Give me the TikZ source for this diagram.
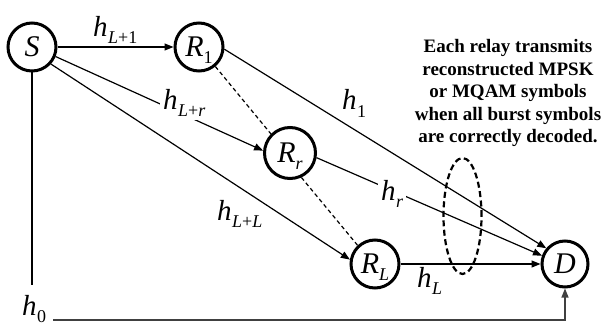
\documentclass[tikz,border=0pt]{standalone}
\usepackage{fontspec}
\setmainfont{Liberation Serif}
\usetikzlibrary{arrows.meta}
\newcommand{\hlab}[1]{\textit{h}\kern0.5pt\raisebox{-7pt}{\fontsize{18}{18}\selectfont #1}}
\newcommand{\nlab}[2]{\textit{#1}\raisebox{-7pt}[0pt][0pt]{\fontsize{18}{18}\selectfont #2}}
\begin{document}
\begin{tikzpicture}[x=1pt,y=-1pt,
  nd/.style={circle, draw, line width=3pt, minimum size=48pt, inner sep=0pt, font=\fontsize{30}{30}\selectfont},
  lab/.style={font=\fontsize{29}{29}\selectfont, inner sep=1pt, anchor=base west},
  gaplab/.style={lab, fill=white, inner xsep=3pt, inner ysep=4pt},
  conn/.style={line width=1.2pt},
  arr/.style={conn, -{Triangle[length=9pt,width=7pt]}},
  dsh/.style={line width=1.2pt, dash pattern=on 4pt off 3pt},
  note/.style={font=\fontsize{19}{22.5}\selectfont\bfseries, align=center}
]
\useasboundingbox (0,0) rectangle (605,329);

\node[nd] (S) at (32,47) {\textit{S}};
\node[nd] (R1) at (199,47) {\nlab{R}{1}};
\node[nd, minimum size=51pt] (Rr) at (290,153) {\nlab{R}{\textit{r}}};
\node[nd] (RL) at (375,264) {\nlab{R}{\textit{L}}};
\node[nd, minimum size=46pt] (D) at (565,264) {\textit{D}};

% connectors
\draw[arr] (S) -- (R1);
\draw[arr] (S.-22) -- (Rr.175);
\draw[arr] (S.-42) -- (RL.170);
\draw[arr] (R1.-5) -- (D.140);
\draw[arr] (Rr.-10) -- (D.160);
\draw[arr] (RL) -- (D);
\draw[dsh] (R1.-50) -- (Rr.135);
\draw[dsh] (Rr.-65) -- (RL.133);

\coordinate (vend) at (32,285);
\coordinate (hstart) at (53,320);
\draw[conn] (S) -- (vend);
\draw[arr, black!75] (hstart) -| (D.south);

% ellipse
\draw[line width=2.2pt, dash pattern=on 6pt off 3.5pt] (462.5,216) ellipse [x radius=19pt, y radius=58pt];

% labels
\node[lab] (hL1) at (92,37) {\hlab{\textit{L}+1}};
\node[gaplab] (hLr) at (160,109) {\hlab{\textit{L}+\textit{r}}};
\node[lab] (hLL) at (216,220) {\hlab{\textit{L}+\textit{L}}};
\node[lab] (h1) at (341,110) {\hlab{1}};
\node[gaplab] (hr) at (378,200) {\hlab{\textit{r}}};
\node[lab] (hL) at (416,287) {\hlab{\textit{L}}};
\node[lab] (h0) at (21,315) {\hlab{0}};

% note
\node[note] (txt) at (508,93) {Each relay transmits\\reconstructed MPSK\\or MQAM symbols\\when all burst symbols\\are correctly decoded.};
\end{tikzpicture}
\end{document}
